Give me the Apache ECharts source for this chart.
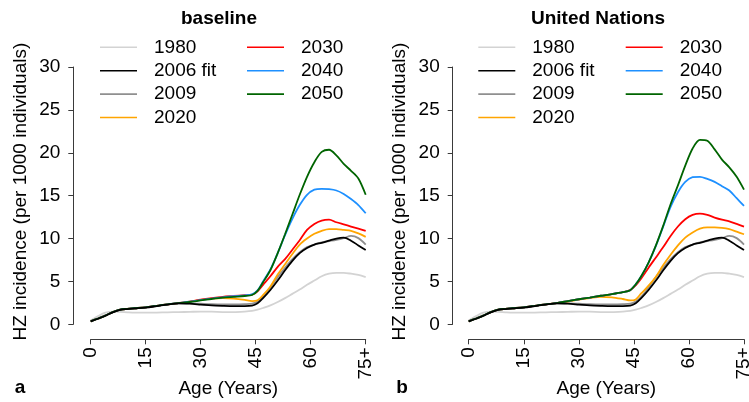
<!DOCTYPE html>
<html>
<head>
<meta charset="utf-8">
<title>HZ incidence by age</title>
<script src="https://cdn.jsdelivr.net/npm/echarts@6/dist/echarts.min.js"></script>
<style>
  html, body { margin: 0; padding: 0; background: #ffffff; }
  #chart { width: 749px; height: 402px; }
</style>
</head>
<body>
<div id="chart"></div>
<script>
// Age grid (years) shared by every curve
const ages = [0, 2, 4, 6, 8, 10, 12, 15, 18, 21, 24, 27, 30, 33, 36, 39, 42, 44, 45.5,
  47, 49, 51, 53, 55, 57, 59, 61, 63, 65, 67, 69, 71, 73, 75];

const xTickLabels = ['0', '15', '30', '45', '60', '75+'];
const seriesNames = ['1980', '2006 fit', '2009', '2020', '2030', '2040', '2050'];

// Observed / fitted incidence (per 1000), same in both panels
const obs1980 = [0.45, 0.95, 1.35, 1.48, 1.45, 1.4, 1.36, 1.35, 1.37, 1.4, 1.42,
  1.45, 1.48, 1.47, 1.43, 1.42, 1.48, 1.56,
  1.7, 1.9, 2.2, 2.6, 3.05, 3.55, 4.05, 4.6, 5.1, 5.6, 5.9, 6.0, 6.0, 5.9, 5.75, 5.5];
const fit2006 = [0.35, 0.65, 1.0, 1.4, 1.68, 1.78, 1.85, 1.95, 2.12, 2.3, 2.45,
  2.4, 2.3, 2.2, 2.15, 2.12, 2.12, 2.17,
  2.45, 3.05, 4.0, 5.1, 6.3, 7.4, 8.3, 8.9, 9.3, 9.5, 9.75, 10.0, 10.1, 9.75, 9.2, 8.65];
const obs2009 = [0.4, 0.7, 1.05, 1.42, 1.68, 1.78, 1.85, 1.97, 2.15, 2.32, 2.45,
  2.45, 2.4, 2.35, 2.33, 2.33, 2.35, 2.4,
  2.65, 3.2, 4.3, 5.5, 6.6, 7.6, 8.4, 9.0, 9.3, 9.55, 9.7, 9.85, 10.05, 10.3, 10.05, 9.3];

// Projections, baseline demography
const base2020 = [0.35, 0.68, 1.02, 1.42, 1.7, 1.8, 1.87, 1.98, 2.15, 2.33, 2.48,
  2.65, 2.85, 3.0, 3.05, 3.0, 2.85, 2.7,
  2.8, 3.4, 4.4, 5.8, 7.0, 8.2, 9.3, 10.0, 10.55, 10.9, 11.1, 11.1, 11.0, 10.9, 10.6, 10.2];
const base2030 = [0.35, 0.68, 1.02, 1.42, 1.7, 1.8, 1.87, 1.98, 2.15, 2.33, 2.48,
  2.65, 2.87, 3.05, 3.2, 3.3, 3.4, 3.45,
  3.85, 4.6, 5.6, 6.7, 7.6, 8.7, 9.8, 11.0, 11.7, 12.1, 12.2, 11.9, 11.65, 11.4, 11.15, 10.9];
const base2040 = [0.35, 0.68, 1.02, 1.42, 1.7, 1.8, 1.87, 1.98, 2.15, 2.33, 2.48,
  2.63, 2.83, 3.0, 3.15, 3.27, 3.37, 3.5,
  3.95, 5.0, 6.4, 8.3, 10.4, 12.3, 13.9, 15.1, 15.7, 15.8, 15.75, 15.6, 15.2, 14.6, 13.9, 12.95];
const base2050 = [0.35, 0.68, 1.02, 1.42, 1.7, 1.8, 1.87, 1.98, 2.15, 2.33, 2.48,
  2.6, 2.78, 2.95, 3.1, 3.2, 3.3, 3.42,
  3.9, 4.9, 6.3, 8.3, 10.5, 12.8, 15.1, 17.2, 18.9, 20.1, 20.35, 19.7, 18.7, 17.9, 17.0, 15.1];

// Projections, United Nations demography
const un2020 = [0.35, 0.68, 1.02, 1.42, 1.7, 1.8, 1.87, 1.98, 2.15, 2.33, 2.48,
  2.65, 2.87, 3.05, 3.2, 3.15, 2.95, 2.78,
  2.9, 3.6, 4.5, 5.55, 6.9, 8.1, 9.2, 10.1, 10.7, 11.15, 11.3, 11.3, 11.25, 11.1, 10.8, 10.5];
const un2030 = [0.35, 0.68, 1.02, 1.42, 1.7, 1.8, 1.87, 1.98, 2.15, 2.33, 2.48,
  2.7, 2.92, 3.12, 3.33, 3.52, 3.75, 3.98,
  4.55, 5.35, 6.6, 7.8, 9.0, 10.3, 11.4, 12.25, 12.75, 12.9, 12.75, 12.45, 12.2, 12.0, 11.7, 11.4];
const un2040 = [0.35, 0.68, 1.02, 1.42, 1.7, 1.8, 1.87, 1.98, 2.15, 2.33, 2.48,
  2.7, 2.92, 3.12, 3.33, 3.52, 3.75, 3.98,
  4.65, 5.6, 7.2, 9.15, 11.4, 13.7, 15.4, 16.6, 17.15, 17.2, 16.95, 16.6, 16.1, 15.6, 14.7, 13.8];
const un2050 = [0.35, 0.68, 1.02, 1.42, 1.7, 1.8, 1.87, 1.98, 2.15, 2.33, 2.48,
  2.7, 2.92, 3.12, 3.33, 3.52, 3.75, 3.98,
  4.65, 5.6, 7.2, 9.2, 11.5, 14.0, 16.2, 18.5, 20.5, 21.5, 21.4, 20.4, 19.2, 18.3, 17.2, 15.7];

const lineColors = ['#d3d3d3', '#000000', '#8f8f8f', '#ffa500', '#ff0000', '#1e90ff', '#006400'];
const FONT = '"Liberation Sans", Arial, Helvetica, sans-serif';
const AXIS_COLOR = '#3a3a3a';

const panelData = [
  [obs1980, fit2006, obs2009, base2020, base2030, base2040, base2050],
  [obs1980, fit2006, obs2009, un2020, un2030, un2040, un2050]
];

// Panel geometry: grid spans exactly the 0–75 / 0–30 ranges, axes pushed outward
const panels = [
  { left: 90.7, width: 275, yOffset: 17.4 },
  { left: 468.7, width: 275.3, yOffset: 16 }
];
const gridTop = 67, gridHeight = 257.3;

const grids = panels.map(p => ({
  left: p.left, top: gridTop, width: p.width, height: gridHeight,
  containLabel: false, outerBoundsMode: 'none'
}));

const xAxes = panels.map((p, i) => ({
  type: 'value', gridIndex: i, min: 0, max: 75, interval: 15, offset: 15,
  axisLine: { show: true, onZero: false, lineStyle: { color: AXIS_COLOR, width: 1 } },
  axisTick: { show: true, length: 5, lineStyle: { color: AXIS_COLOR, width: 1 } },
  axisLabel: {
    rotate: 90, margin: 8, fontSize: 19, color: '#000', fontFamily: FONT,
    formatter: v => xTickLabels[Math.round(v / 15)]
  },
  splitLine: { show: false },
  name: 'Age (Years)', nameLocation: 'middle', nameGap: 40, nameMoveOverlap: false,
  nameTextStyle: { fontSize: 19, color: '#000', fontFamily: FONT }
}));

const yAxes = panels.map((p, i) => ({
  type: 'value', gridIndex: i, min: 0, max: 30, interval: 5, offset: p.yOffset,
  axisLine: { show: true, onZero: false, lineStyle: { color: AXIS_COLOR, width: 1 } },
  axisTick: { show: true, length: 5, lineStyle: { color: AXIS_COLOR, width: 1 } },
  axisLabel: { margin: 13, fontSize: 19, color: '#000', fontFamily: FONT },
  splitLine: { show: false },
  name: 'HZ incidence (per 1000 individuals)', nameLocation: 'middle', nameGap: 43,
  nameMoveOverlap: false,
  nameTextStyle: { fontSize: 19, color: '#000', fontFamily: FONT, padding: [0, 0, 0, 8] }
}));

const series = [];
panelData.forEach((curves, pi) => {
  curves.forEach((vals, si) => {
    series.push({
      type: 'line', name: seriesNames[si],
      xAxisIndex: pi, yAxisIndex: pi,
      data: ages.map((a, k) => [a, vals[k]]),
      symbol: 'none', smooth: 0.3,
      z: si === 1 ? 4 : 2,
      lineStyle: { color: lineColors[si], width: 1.8 },
      itemStyle: { color: lineColors[si] },
      emphasis: { disabled: true },
      silent: true
    });
  });
});

// Legend entries drawn as plain line segments
function legendBlock(names, left) {
  return {
    data: names, orient: 'vertical', left: left, top: 37.3, padding: 0,
    icon: 'rect', itemWidth: 37, itemHeight: 1.6, itemGap: 3.4,
    textStyle: { fontSize: 19, color: '#000', fontFamily: FONT, lineHeight: 20, padding: [0, 0, 0, 12] },
    selectedMode: false
  };
}
const legendColA = seriesNames.slice(0, 4);
const legendColB = seriesNames.slice(4);

const titleFont = 'bold 19px ' + FONT;
const option = {
  animation: false,
  backgroundColor: '#ffffff',
  grid: grids,
  xAxis: xAxes,
  yAxis: yAxes,
  legend: [
    legendBlock(legendColA, 100), legendBlock(legendColB, 247),
    legendBlock(legendColA, 478.3), legendBlock(legendColB, 625.7)
  ],
  series: series,
  graphic: [
    { type: 'text', x: 219, y: 19, style: { text: 'baseline', font: titleFont, fill: '#000', align: 'center', verticalAlign: 'middle', textAlign: 'center', textVerticalAlign: 'middle' } },
    { type: 'text', x: 598, y: 19, style: { text: 'United Nations', font: titleFont, fill: '#000', align: 'center', verticalAlign: 'middle', textAlign: 'center', textVerticalAlign: 'middle' } },
    { type: 'text', x: 20, y: 388, style: { text: 'a', font: titleFont, fill: '#000', align: 'center', verticalAlign: 'middle', textAlign: 'center', textVerticalAlign: 'middle' } },
    { type: 'text', x: 402, y: 388, style: { text: 'b', font: titleFont, fill: '#000', align: 'center', verticalAlign: 'middle', textAlign: 'center', textVerticalAlign: 'middle' } }
  ]
};

const chart = echarts.init(document.getElementById('chart'), null, { renderer: 'canvas' });
chart.setOption(option);
</script>
</body>
</html>
